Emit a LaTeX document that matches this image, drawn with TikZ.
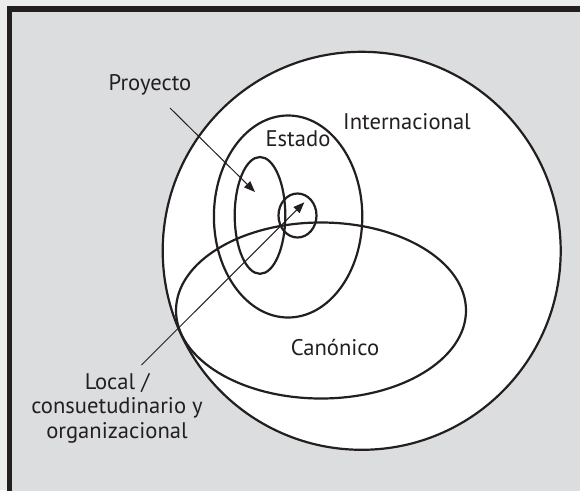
\documentclass[tikz,border=0pt]{standalone}
\usepackage{fontspec}
\setmainfont{PT Sans}
\usetikzlibrary{arrows.meta}
\definecolor{bggray}{RGB}{220,221,223}
\definecolor{outerbg}{RGB}{236,236,237}
\definecolor{ink}{RGB}{35,31,32}
\begin{document}
\begin{tikzpicture}[x=1pt,y=-1pt,
  lbl/.style={font=\fontsize{22.6}{24.6}\selectfont, text=ink, inner sep=0pt, anchor=base},
  outline/.style={draw=ink, line width=2.2pt},
  pointer/.style={draw=ink, line width=1pt, -{Triangle[length=11pt,width=8.5pt]}}]
\useasboundingbox (0,0) rectangle (580,490);
\fill[outerbg] (0,0) rectangle (580,490);
\begin{scope}
  \clip (0,0) rectangle (580,490);
  \draw[fill=bggray, draw=ink, line width=5.5pt] (9.5,9) rectangle (600,510);
\end{scope}
% centres of the shapes
\coordinate (cInt) at (361.7,250.8);
\coordinate (cCan) at (321,310.5);
\coordinate (cEst) at (288.1,216.5);
\coordinate (cPro) at (260,215.4);
\coordinate (cLoc) at (297.5,215.5);
% white fills
\fill[white] (cInt) circle[radius=199];
\fill[white] (cCan) ellipse[x radius=145, y radius=88];
% outlines
\draw[outline] (cInt) circle[radius=199];
\draw[outline] (cCan) ellipse[x radius=145, y radius=88];
\draw[outline] (cEst) ellipse[x radius=74.2, y radius=101];
\draw[outline] (cPro) ellipse[x radius=25.3, y radius=58.4];
\draw[outline] (cLoc) ellipse[x radius=19, y radius=22];
% labels
\node[lbl] (proyecto) at (150,90) {Proyecto};
\node[lbl] (internacional) at (407,129) {Internacional};
\node[lbl] (estado) at (298,146.7) {Estado};
\node[lbl] (canonico) at (335,355) {Canónico};
\node[lbl, align=center] (local) at (117,438.3) {Local /\\consuetudinario y\\organizacional};
% pointers
\coordinate (pStart) at (170,108);
\coordinate (pTip) at (255,192);
\coordinate (lStart) at (141.5,365);
\coordinate (lTip) at (304.3,202.3);
\draw[pointer] (pStart) -- (pTip);
\draw[pointer] (lStart) -- (lTip);
\end{tikzpicture}
\end{document}
